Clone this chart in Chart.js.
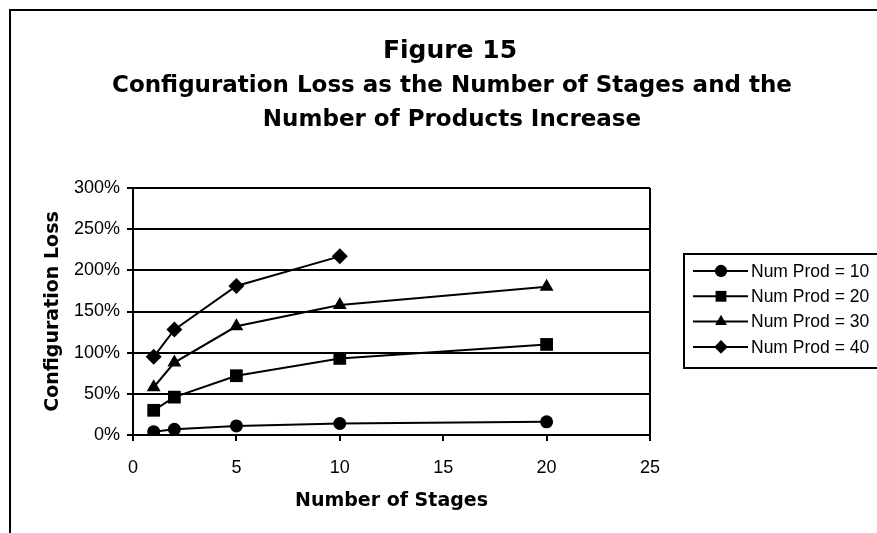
<!DOCTYPE html>
<html>
<head>
<meta charset="utf-8">
<title>Figure 15</title>
<script src="https://cdn.jsdelivr.net/npm/chart.js@4/dist/chart.umd.min.js"></script>
<style>
  html, body { margin: 0; padding: 0; background: #fff; }
  #wrap { width: 877px; height: 533px; }
</style>
</head>
<body>
<div id="wrap"><canvas id="c" width="877" height="533"></canvas></div>
<script>
// Number of stages (x values)
const stages = [1, 2, 5, 10, 20];

// Configuration loss in percent, one series per product count
const prod10 = [4, 7, 11, 14, 16];
const prod20 = [30, 46, 72, 93, 110];
const prod30 = [58, 88, 132, 158, 180];
const prod40 = [95, 128, 181, 217];

const seriesNames = ['Num Prod = 10', 'Num Prod = 20', 'Num Prod = 30', 'Num Prod = 40'];
const seriesValues = [prod10, prod20, prod30, prod40];
const markerStyles = ['circle', 'rect', 'triangle', 'rectRot'];
const markerRadii = [6.5, 9, 8, 8];

const titleText = 'Figure 15';
const subtitleLines = [
  'Configuration Loss as the Number of Stages and the',
  'Number of Products Increase'
];
const xAxisTitle = 'Number of Stages';
const yAxisTitle = 'Configuration Loss';

const toPoints = vals => vals.map((v, i) => ({ x: stages[i], y: v }));

const datasets = seriesValues.map((vals, i) => ({
  label: seriesNames[i],
  data: toPoints(vals),
  borderColor: '#000',
  backgroundColor: '#000',
  borderWidth: 2,
  pointStyle: markerStyles[i],
  pointRadius: markerRadii[i],
  pointBorderWidth: 0,
  pointBackgroundColor: '#000',
  showLine: true,
  tension: 0
}));

// Draw a marker shape centred on (x, y)
function marker(ctx, style, x, y, r) {
  ctx.beginPath();
  if (style === 'circle') {
    ctx.arc(x, y, r, 0, Math.PI * 2);
  } else if (style === 'rect') {
    const s = Math.SQRT1_2 * r;
    ctx.rect(x - s, y - s, 2 * s, 2 * s);
  } else if (style === 'triangle') {
    for (let k = 0; k < 3; k++) {
      const a = k * 2 * Math.PI / 3;
      const px = x + Math.sin(a) * r, py = y - Math.cos(a) * r;
      k ? ctx.lineTo(px, py) : ctx.moveTo(px, py);
    }
    ctx.closePath();
  } else {
    ctx.moveTo(x, y - r); ctx.lineTo(x + r, y); ctx.lineTo(x, y + r); ctx.lineTo(x - r, y);
    ctx.closePath();
  }
  ctx.fill();
}

// Frame, headings and the boxed legend
const decor = {
  id: 'decor',
  beforeDraw(chart) {
    const ctx = chart.ctx;
    ctx.save();
    ctx.fillStyle = '#fff';
    ctx.fillRect(0, 0, chart.width, chart.height);
    ctx.restore();
  },
  afterDraw(chart) {
    const ctx = chart.ctx;
    ctx.save();
    // outer frame
    ctx.strokeStyle = '#000';
    ctx.lineWidth = 2;
    ctx.strokeRect(10, 10, 1000, 1000);

    // headings
    ctx.fillStyle = '#000';
    ctx.textAlign = 'center';
    ctx.textBaseline = 'alphabetic';
    ctx.font = 'bold 25px "DejaVu Sans"';
    ctx.fillText(titleText, 450, 58);
    ctx.font = 'bold 23px "DejaVu Sans"';
    ctx.fillText(subtitleLines[0], 452, 92);
    ctx.fillText(subtitleLines[1], 452, 126);

    // legend box
    const lx = 684, ly = 254;
    ctx.fillStyle = '#fff';
    ctx.fillRect(lx, ly, 300, 114);
    ctx.strokeRect(lx, ly, 300, 114);
    ctx.font = '17.5px "Liberation Sans", Arial, sans-serif';
    ctx.textAlign = 'left';
    ctx.textBaseline = 'middle';
    chart.data.datasets.forEach((ds, i) => {
      const y = 271 + i * 25.3;
      ctx.strokeStyle = '#000';
      ctx.lineWidth = 2;
      ctx.beginPath();
      ctx.moveTo(693, y); ctx.lineTo(748, y);
      ctx.stroke();
      ctx.fillStyle = '#000';
      marker(ctx, ds.pointStyle, 721, y, ds.pointRadius * (i === 0 ? 0.95 : 0.85));
      ctx.fillText(ds.label, 751, y + 1);
    });
    ctx.restore();
  }
};

new Chart(document.getElementById('c'), {
  type: 'scatter',
  data: { datasets },
  plugins: [decor],
  options: {
    responsive: false,
    devicePixelRatio: 1,
    animation: false,
    layout: { padding: { left: 0, top: 188, right: 227, bottom: 0 } },
    plugins: {
      legend: { display: false },
      title: { display: false },
      tooltip: { enabled: false }
    },
    scales: {
      x: {
        type: 'linear',
        min: 0, max: 25,
        afterFit: s => { s.height = 98; },
        ticks: {
          stepSize: 5,
          color: '#000',
          padding: 16,
          font: { family: '"Liberation Sans", Arial, sans-serif', size: 18 }
        },
        grid: {
          drawOnChartArea: true,
          color: c => (c.tick && c.tick.value === 25 ? '#000' : 'rgba(0,0,0,0)'),
          tickColor: '#000',
          lineWidth: 2,
          tickLength: 6
        },
        border: { display: true, color: '#000', width: 2 },
        title: {
          display: true,
          text: xAxisTitle,
          color: '#000',
          font: { family: '"DejaVu Sans"', size: 19, weight: 'bold' },
          padding: { top: 0, bottom: 21 }
        }
      },
      y: {
        type: 'linear',
        min: 0, max: 300,
        afterFit: s => { s.width = 133; },
        ticks: {
          stepSize: 50,
          color: '#000',
          padding: 7,
          font: { family: '"Liberation Sans", Arial, sans-serif', size: 18 },
          callback: v => v + '%'
        },
        grid: {
          color: '#000',
          lineWidth: 2,
          tickLength: 6
        },
        border: { display: true, color: '#000', width: 2 },
        title: {
          display: true,
          text: yAxisTitle,
          color: '#000',
          font: { family: '"DejaVu Sans"', size: 19, weight: 'bold' },
          padding: { top: 42, bottom: 0 }
        }
      }
    }
  }
});
</script>
</body>
</html>
